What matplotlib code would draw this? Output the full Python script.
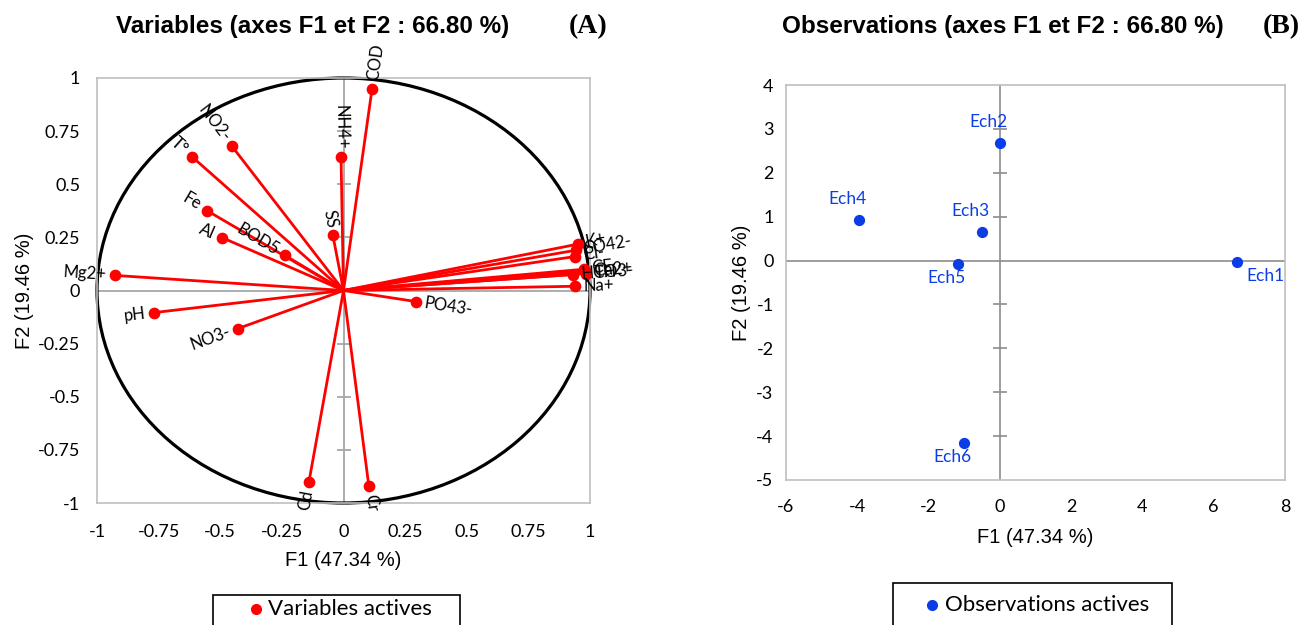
import numpy as np
import matplotlib
matplotlib.use("Agg")
import matplotlib.pyplot as plt
from matplotlib.patches import Circle, Rectangle
from matplotlib.lines import Line2D

plt.rcParams['font.family'] = ['Lato', 'DejaVu Sans']
plt.rcParams['axes.unicode_minus'] = False

# ---------------- data ----------------
var_labels = ["COD", "NH4+", "NO2-", "T°", "Fe", "Al", "BOD5", "SS", "Mg2+", "pH",
              "NO3-", "PO43-", "Cd", "Cr", "K+", "SO42-", "Cl-", "CE", "Ca2+", "TH",
              "HCO3-", "Na+"]
var_f1 = [0.116, -0.010, -0.452, -0.615, -0.554, -0.493, -0.237, -0.043, -0.927, -0.769,
          -0.428, 0.294, -0.140, 0.103, 0.950, 0.945, 0.940, 0.975, 0.980, 0.985,
          0.930, 0.940]
var_f2 = [0.950, 0.626, 0.678, 0.630, 0.376, 0.249, 0.165, 0.259, 0.071, -0.104,
          -0.179, -0.052, -0.899, -0.922, 0.218, 0.190, 0.160, 0.100, 0.090, 0.080,
          0.075, 0.020]

obs_labels = ["Ech1", "Ech2", "Ech3", "Ech4", "Ech5", "Ech6"]
obs_f1 = [6.66, 0.00, -0.50, -3.95, -1.18, -1.02]
obs_f2 = [-0.04, 2.68, 0.66, 0.93, -0.08, -4.15]

circ_ticks = [-1, -0.75, -0.5, -0.25, 0, 0.25, 0.5, 0.75, 1]
circ_ticklabels = ["-1", "-0.75", "-0.5", "-0.25", "0", "0.25", "0.5", "0.75", "1"]
obs_xticks = [-6, -4, -2, 0, 2, 4, 6, 8]
obs_yticks = [-5, -4, -3, -2, -1, 0, 1, 2, 3, 4]

# label offsets (points) for observations
obs_offsets = [(20, -10), (-8, 15), (-8, 15), (-8, 15), (-8, -10), (-8, -10)]

RED = '#ff0000'
BLUE = '#0a3de6'
FRAME = '#bfbfbf'
AXLINE = '#a0a0a0'

W, H = 1314, 625
fig = plt.figure(figsize=(W / 100, H / 100), dpi=100)

def px_axes(x0, y0, x1, y1):
    return fig.add_axes([x0 / W, 1 - y1 / H, (x1 - x0) / W, (y1 - y0) / H])

# ---------------- left: correlation circle ----------------
axL = px_axes(97, 78, 590, 503)
axL.set_xlim(-1, 1)
axL.set_ylim(-1, 1)
axL.axhline(0, color=AXLINE, lw=1.2, zorder=1)
axL.axvline(0, color=AXLINE, lw=1.2, zorder=1)
yt_inner = [t for t in circ_ticks if t not in (-1, 0, 1)]
axL.plot(np.zeros(len(yt_inner)), yt_inner, ls='none', marker='_', ms=10, mew=1.2,
         color=AXLINE, zorder=1)
axL.add_patch(Circle((0, 0), 1, fill=False, ec='black', lw=2.3, zorder=2, clip_on=False))
for x, y in zip(var_f1, var_f2):
    axL.plot([0, x], [0, y], color=RED, lw=2, zorder=3, solid_capstyle='round')
axL.scatter(var_f1, var_f2, s=55, color=RED, zorder=4)

axL.set_xticks(circ_ticks)
axL.set_xticklabels(circ_ticklabels)
axL.set_yticks(circ_ticks)
axL.set_yticklabels(circ_ticklabels)
axL.tick_params(length=0, labelsize=13)
axL.tick_params(axis='x', pad=15)
axL.tick_params(axis='y', pad=12)
for s in axL.spines.values():
    s.set_color(FRAME)
    s.set_linewidth(1.2)
axL.set_xlabel("F1 (47.34 %)", family='Liberation Sans', fontsize=14.5, labelpad=8)
axL.set_ylabel("F2 (19.46 %)", family='Liberation Sans', fontsize=14.5, labelpad=3)

fig.canvas.draw()
o = axL.transData.transform((0, 0))
for lab, x, y in zip(var_labels, var_f1, var_f2):
    p = axL.transData.transform((x, y)) - o
    ang = np.degrees(np.arctan2(p[1], p[0]))
    d = 6
    dx, dy = d * np.cos(np.radians(ang)), d * np.sin(np.radians(ang))
    if x >= 0:
        rot, ha = ang, 'left'
    else:
        rot, ha = ang - 180, 'right'
    if rot < -180:
        rot += 360
    axL.annotate(lab, (x, y), xytext=(dx, dy), textcoords='offset points',
                 rotation=rot, rotation_mode='anchor', ha=ha, va='center',
                 fontsize=12, color='black', zorder=5)

fig.text(313 / W, 1 - 27 / H, "Variables (axes F1 et F2 : 66.80 %)", ha='center', va='center',
         family='Liberation Sans', fontweight='bold', fontsize=17.5)
fig.text(588 / W, 1 - 27 / H, "(A)", ha='center', va='center',
         family='Liberation Serif', fontweight='bold', fontsize=20)

# ---------------- right: observations ----------------
axR = px_axes(786, 85, 1285, 480)
axR.set_xlim(-6, 8)
axR.set_ylim(-5, 4)
axR.axhline(0, color='#8c8c8c', lw=1.2, zorder=1)
axR.axvline(0, color='#8c8c8c', lw=1.2, zorder=1)
yt_obs_inner = [t for t in obs_yticks if t not in (-5, 0, 4)]
axR.plot(np.zeros(len(yt_obs_inner)), yt_obs_inner, ls='none', marker='_', ms=10, mew=1.2,
         color='#8c8c8c', zorder=1)
axR.scatter(obs_f1, obs_f2, s=50, color=BLUE, zorder=4)
for lab, x, y, off in zip(obs_labels, obs_f1, obs_f2, obs_offsets):
    axR.annotate(lab, (x, y), xytext=off, textcoords='offset points', ha='center',
                 va='center', fontsize=12.5, color=BLUE, zorder=5)
axR.set_xticks(obs_xticks)
axR.set_yticks(obs_yticks)
axR.tick_params(length=0, labelsize=13)
axR.tick_params(axis='x', pad=14)
axR.tick_params(axis='y', pad=9)
for s in axR.spines.values():
    s.set_color(FRAME)
    s.set_linewidth(1.2)
axR.set_xlabel("F1 (47.34 %)", family='Liberation Sans', fontsize=14.5, labelpad=9)
axR.set_ylabel("F2 (19.46 %)", family='Liberation Sans', fontsize=14.5, labelpad=4)

fig.text(1003 / W, 1 - 27 / H, "Observations (axes F1 et F2 : 66.80 %)", ha='center', va='center',
         family='Liberation Sans', fontweight='bold', fontsize=17.5)
fig.text(1281 / W, 1 - 27 / H, "(B)", ha='center', va='center',
         family='Liberation Serif', fontweight='bold', fontsize=20)

# ---------------- legends (boxes cut by bottom edge) ----------------
def legend_box(x0, x1, ytop, mx, tx, ty, color, text):
    fig.patches.append(Rectangle((x0 / W, -0.05), (x1 - x0) / W, 1 - ytop / H + 0.05,
                                 transform=fig.transFigure, fill=False, ec='black', lw=1.2))
    fig.lines.append(Line2D([mx / W], [1 - ty / H], transform=fig.transFigure, marker='o',
                            ms=7, color=color, ls='none'))
    fig.text(tx / W, 1 - ty / H, text, ha='left', va='center', fontsize=16)

legend_box(213, 460, 595, 256, 268, 609, RED, "Variables actives")
legend_box(893, 1172, 583, 932, 945, 605, BLUE, "Observations actives")

fig.savefig("out.png", dpi=100)
